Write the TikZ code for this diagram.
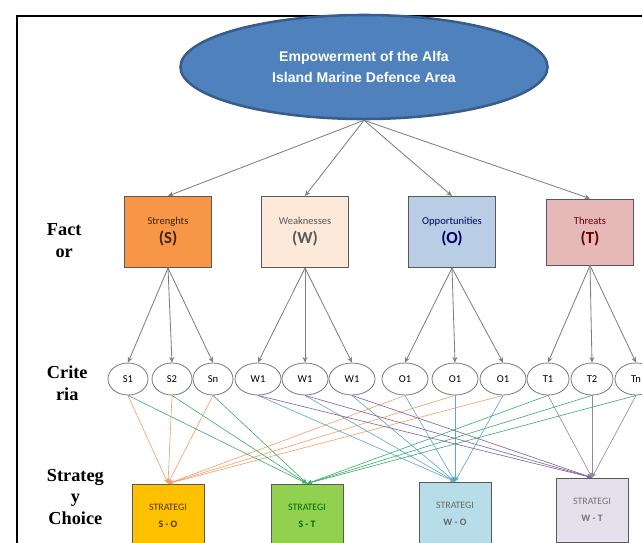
\documentclass[tikz,border=0pt]{standalone}
\usepackage{fontspec}
\setmainfont{Liberation Serif}
\newfontfamily\arialfont{Liberation Sans}
\newfontfamily\calfont{Carlito}
\usetikzlibrary{shapes.geometric,arrows.meta,positioning}

\definecolor{goalfill}{HTML}{4F81BD}
\definecolor{goaledge}{HTML}{385D8A}
\definecolor{greyline}{HTML}{7F7F7F}
\definecolor{boxedge}{HTML}{595959}
\definecolor{strfill}{HTML}{F79646}
\definecolor{weafill}{HTML}{FDE9D9}
\definecolor{oppfill}{HTML}{B9CDE5}
\definecolor{thrfill}{HTML}{E6B9B8}
\definecolor{sofill}{HTML}{FFC000}
\definecolor{stfill}{HTML}{92D050}
\definecolor{wofill}{HTML}{B7DEE8}
\definecolor{wtfill}{HTML}{E6E0EC}
\definecolor{linkor}{HTML}{F4A06A}
\definecolor{linkgr}{HTML}{3DAE6E}
\definecolor{linkbl}{HTML}{5FA9C8}
\definecolor{linkpu}{HTML}{8064A2}
\definecolor{linkgy}{HTML}{8C8C9C}

\tikzset{
  arrowtip/.style={-{Stealth[length=4pt,width=3.5pt]}},
  factorbox/.style={draw=boxedge, line width=0.6pt, minimum width=2.175cm,
    minimum height=1.78cm, align=center, font=\calfont\fontsize{7.5}{13.5}\selectfont},
  critnode/.style={ellipse, draw=greyline, line width=0.6pt, fill=white,
    minimum height=0.8cm, inner sep=0pt, font=\calfont\fontsize{7.5}{8}\selectfont},
  stratbox/.style={draw=boxedge, line width=0.6pt, minimum width=1.8cm,
    minimum height=1.6cm, align=center, font=\calfont\fontsize{7}{12.5}\selectfont},
  sidelabel/.style={anchor=west, align=center, font=\bfseries\fontsize{13}{15.6}\selectfont}
}

\begin{document}
\begin{tikzpicture}[x=0.025cm, y=-0.025cm]
    \useasboundingbox (0,0) rectangle (642,542);

    % Frame
    \draw[line width=1.4pt] (17,560) -- (17,16) -- (660,16);

    % Goal
    \node[ellipse, draw=goaledge, line width=1.8pt, fill=goalfill, text=white,
          minimum width=9.175cm, minimum height=2.6cm, align=center,
          font=\arialfont\bfseries\fontsize{10}{14.9}\selectfont] (goal) at (364,67)
        {Empowerment of the Alfa\\Island Marine Defence Area};

    % Side labels
    \node[sidelabel] (lfactor) at (42,241) {Fact\\or};
    \node[sidelabel] (lcrit)   at (42,383) {Crite\\ria};
    \node[sidelabel] (lstrat)  at (42,497) {Strateg\\y\\Choice};

    % Factors
    \node[factorbox, fill=strfill, text=black!70!brown] (str) at (168,232) {Strenghts\\\textbf{\large(S)}};
    \node[factorbox, fill=weafill, text=black!65] (wea) at (305,232) {Weaknesses\\\textbf{\large(W)}};
    \node[factorbox, fill=oppfill, text=blue!40!black] (opp) at (452,232) {Opportunities\\\textbf{\large(O)}};
    \node[factorbox, fill=thrfill, text=red!40!black, minimum height=1.65cm] (thr) at (590,232) {Threats\\\textbf{\large(T)}};

    \foreach \f in {str,wea,opp,thr}
        \draw[greyline, line width=0.6pt, arrowtip] (goal.south) -- (\f.north);

    % Criteria
    \foreach \c/\txt/\x/\w in {s1/S1/128/1.0, s2/S2/172/1.0, sn/Sn/213/1.0,
                                wa/W1/258/1.15, wb/W1/305/1.15, wc/W1/352/1.15,
                                oa/O1/405/1.15, ob/O1/455/1.15, oc/O1/503/1.15,
                                t1/T1/548/1.05, t2/T2/592/1.05, tn/Tn/636/1.05}
        \node[critnode, minimum width=\w cm] (\c) at (\x,379) {\txt};

    \foreach \f/\c in {str/s1, str/s2, str/sn, wea/wa, wea/wb, wea/wc,
                       opp/oa, opp/ob, opp/oc, thr/t1, thr/t2, thr/tn}
        \draw[greyline, line width=0.6pt, arrowtip] (\f.south) -- (\c.north);

    % Strategies
    \node[stratbox, fill=sofill, text=black!60!brown] (so) at (168,516) {STRATEGI\\\textbf{S - O}};
    \node[stratbox, fill=stfill, text=black!60!green] (st) at (307,516) {STRATEGI\\\textbf{S - T}};
    \node[stratbox, fill=wofill, text=black!60] (wo) at (455,514) {STRATEGI\\\textbf{W - O}};
    \node[stratbox, fill=wtfill, text=black!55] (wt) at (592,510) {STRATEGI\\\textbf{W - T}};

    % Links from criteria to strategies
    \foreach \c/\s/\col in {s1/so/linkor, s2/so/linkor, sn/so/linkor,
                            oa/so/linkor, ob/so/linkor, oc/so/linkor,
                            s1/st/linkgr, s2/st/linkgr, sn/st/linkgr,
                            t1/st/linkgr, t2/st/linkgr, tn/st/linkgr,
                            wa/wo/linkbl, wb/wo/linkbl, wc/wo/linkbl,
                            oa/wo/linkbl, ob/wo/linkbl, oc/wo/linkbl,
                            wa/wt/linkpu, wb/wt/linkpu, wc/wt/linkpu,
                            t1/wt/linkgy, t2/wt/linkgy, tn/wt/linkgy}
        \draw[\col, line width=0.45pt, -{Stealth[length=3.5pt,width=3pt]}] (\c.south) -- (\s.north);
\end{tikzpicture}
\end{document}
